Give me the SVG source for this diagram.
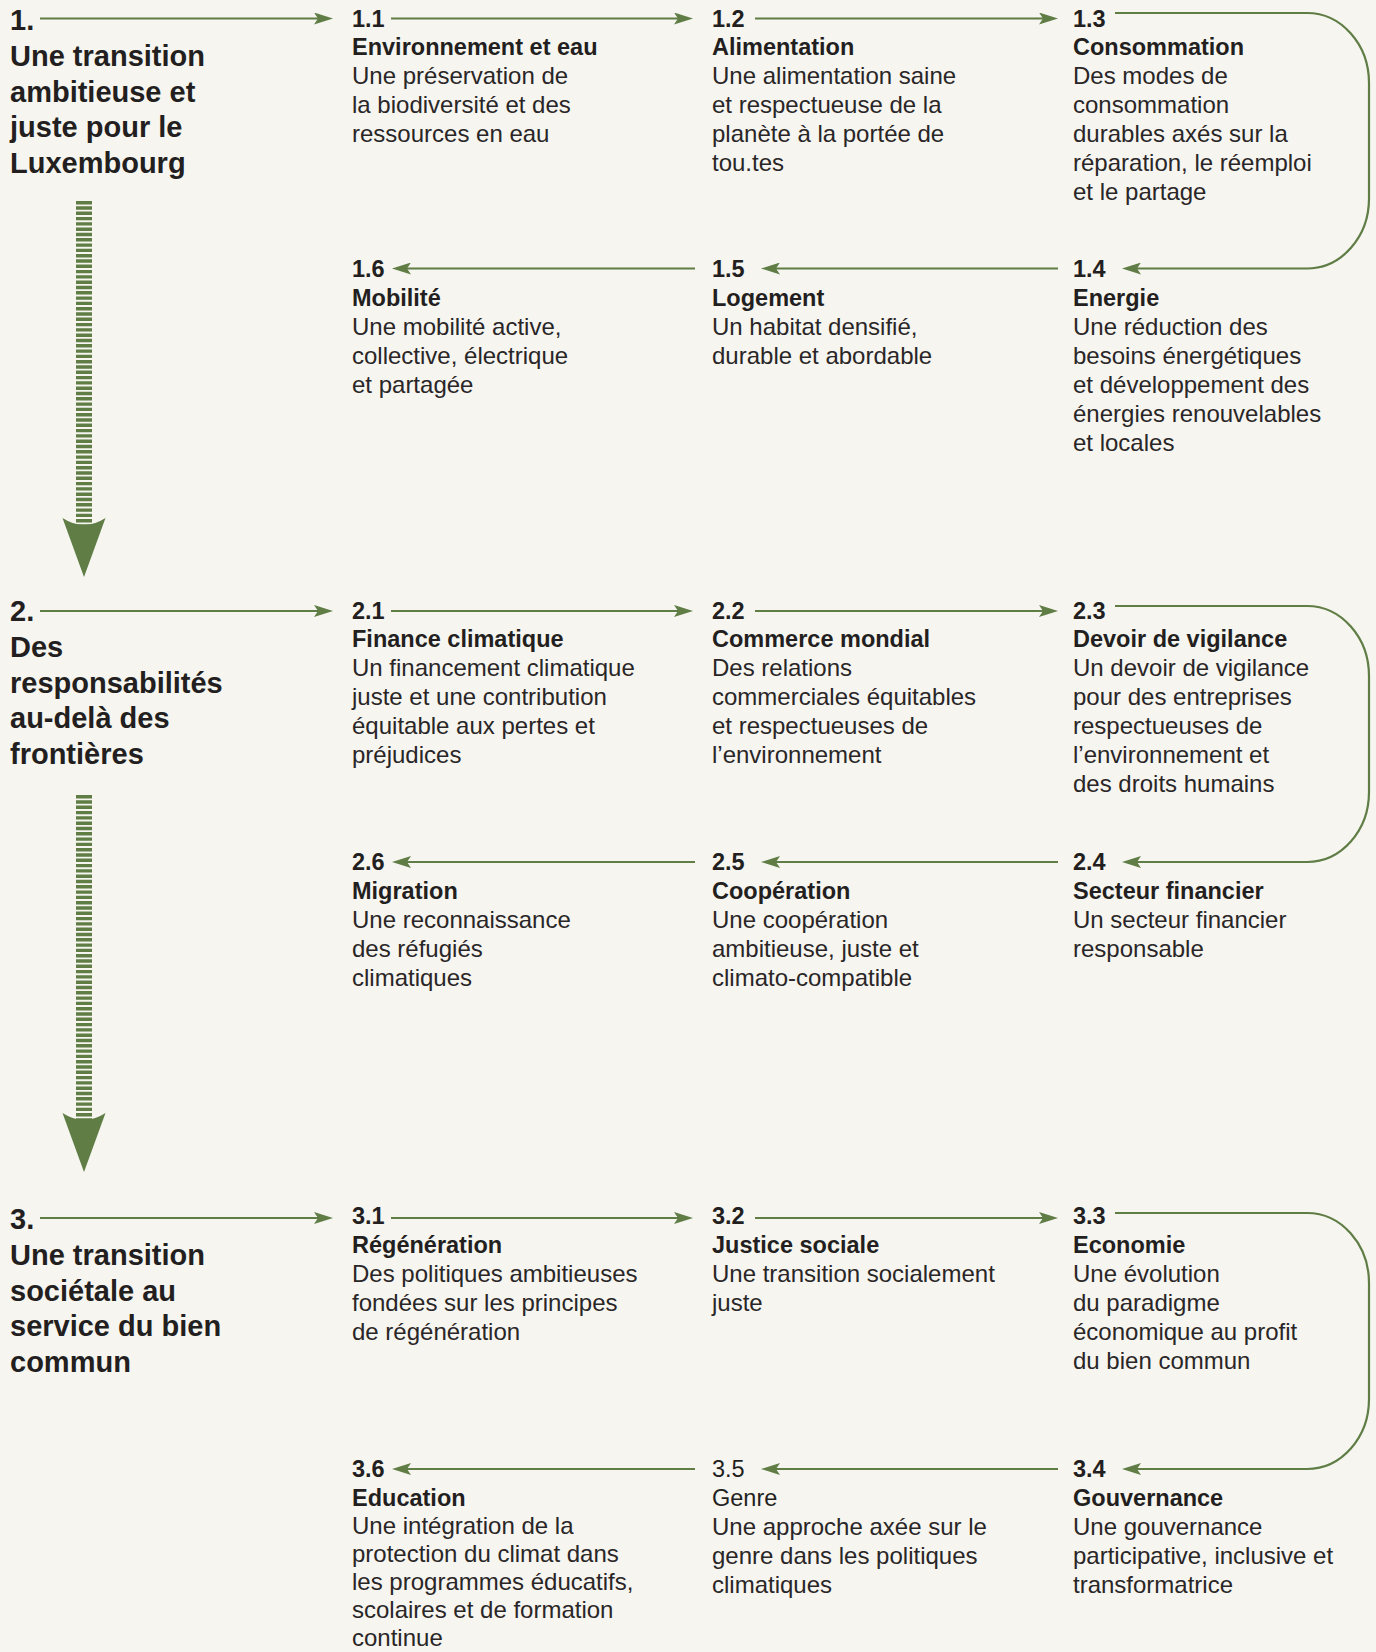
<svg xmlns="http://www.w3.org/2000/svg" width="1376" height="1652" viewBox="0 0 1376 1652">
<defs>
<style>
.num{font-family:"Liberation Sans",Arial,Helvetica,sans-serif;font-weight:bold;font-size:23.5px;fill:#231f20}
.ttl{font-family:"Liberation Sans",Arial,Helvetica,sans-serif;font-weight:bold;font-size:23.5px;fill:#231f20}
.reg{font-family:"Liberation Sans",Arial,Helvetica,sans-serif;font-weight:normal;font-size:23.5px;fill:#231f20}
.body{font-family:"Liberation Sans",Arial,Helvetica,sans-serif;font-size:24px;fill:#2a2627}
.sec{font-family:"Liberation Sans",Arial,Helvetica,sans-serif;font-weight:bold;font-size:29px;fill:#231f20}
.ln{fill:none;stroke:#5f7d45;stroke-width:2.2}
.dash{fill:none;stroke:#5f7d45;stroke-width:16;stroke-dasharray:3.4 1.9}
.head{fill:#5f7d45}
</style>
<marker id="ah" markerUnits="userSpaceOnUse" viewBox="0 0 19 12" refX="11" refY="6" markerWidth="19" markerHeight="12" orient="auto">
<path d="M0,0 L19,6 L0,12 L4,6 Z" fill="#5f7d45"/>
</marker>
</defs>
<rect width="1376" height="1652" fill="#f6f5f0"/>

<g id="connectors">
<!-- section 1 -->
<line class="ln" x1="40" y1="18.5" x2="325" y2="18.5" marker-end="url(#ah)"/>
<line class="ln" x1="391" y1="18.5" x2="685" y2="18.5" marker-end="url(#ah)"/>
<line class="ln" x1="755" y1="18.5" x2="1050" y2="18.5" marker-end="url(#ah)"/>
<path class="ln" d="M1115,13 H1307 A62,70 0 0 1 1369,83 V198 A62,70 0 0 1 1307,268.5 H1130" marker-end="url(#ah)"/>
<line class="ln" x1="1058" y1="268.5" x2="769" y2="268.5" marker-end="url(#ah)"/>
<line class="ln" x1="695" y1="268.5" x2="400" y2="268.5" marker-end="url(#ah)"/>
<line class="dash" x1="84" y1="201" x2="84" y2="528"/>
<path class="head" d="M62.5,518 Q84,532 105.5,518 L84,577 Z"/>
<!-- section 2 -->
<line class="ln" x1="40" y1="611" x2="325" y2="611" marker-end="url(#ah)"/>
<line class="ln" x1="391" y1="611" x2="685" y2="611" marker-end="url(#ah)"/>
<line class="ln" x1="755" y1="611" x2="1050" y2="611" marker-end="url(#ah)"/>
<path class="ln" d="M1115,606 H1307 A62,70 0 0 1 1369,676 V792 A62,70 0 0 1 1307,862 H1130" marker-end="url(#ah)"/>
<line class="ln" x1="1058" y1="862" x2="769" y2="862" marker-end="url(#ah)"/>
<line class="ln" x1="695" y1="862" x2="400" y2="862" marker-end="url(#ah)"/>
<line class="dash" x1="84" y1="795" x2="84" y2="1122"/>
<path class="head" d="M62.5,1113 Q84,1127 105.5,1113 L84,1172 Z"/>
<!-- section 3 -->
<line class="ln" x1="40" y1="1218" x2="325" y2="1218" marker-end="url(#ah)"/>
<line class="ln" x1="391" y1="1218" x2="685" y2="1218" marker-end="url(#ah)"/>
<line class="ln" x1="755" y1="1218" x2="1050" y2="1218" marker-end="url(#ah)"/>
<path class="ln" d="M1115,1213 H1307 A62,70 0 0 1 1369,1283 V1399 A62,70 0 0 1 1307,1469 H1130" marker-end="url(#ah)"/>
<line class="ln" x1="1058" y1="1469" x2="769" y2="1469" marker-end="url(#ah)"/>
<line class="ln" x1="695" y1="1469" x2="400" y2="1469" marker-end="url(#ah)"/>
</g>

<!-- Section 1 -->
<g id="sec1">
<text class="sec" x="10" y="30">1.</text>
<text class="sec" x="10" y="66">Une transition</text>
<text class="sec" x="10" y="101.5">ambitieuse et</text>
<text class="sec" x="10" y="137">juste pour le</text>
<text class="sec" x="10" y="172.5">Luxembourg</text>
</g>
<g id="n1-1">
<text class="num" x="352" y="26.5">1.1</text>
<text class="ttl" x="352" y="55">Environnement et eau</text>
<text class="body" x="352" y="84">Une préservation de</text>
<text class="body" x="352" y="113">la biodiversité et des</text>
<text class="body" x="352" y="142">ressources en eau</text>
</g>
<g id="n1-2">
<text class="num" x="712" y="26.5">1.2</text>
<text class="ttl" x="712" y="55">Alimentation</text>
<text class="body" x="712" y="84">Une alimentation saine</text>
<text class="body" x="712" y="113">et respectueuse de la</text>
<text class="body" x="712" y="142">planète à la portée de</text>
<text class="body" x="712" y="171">tou.tes</text>
</g>
<g id="n1-3">
<text class="num" x="1073" y="26.5">1.3</text>
<text class="ttl" x="1073" y="55">Consommation</text>
<text class="body" x="1073" y="84">Des modes de</text>
<text class="body" x="1073" y="113">consommation</text>
<text class="body" x="1073" y="142">durables axés sur la</text>
<text class="body" x="1073" y="171">réparation, le réemploi</text>
<text class="body" x="1073" y="200">et le partage</text>
</g>
<g id="n1-4">
<text class="num" x="1073" y="277">1.4</text>
<text class="ttl" x="1073" y="305.5">Energie</text>
<text class="body" x="1073" y="334.5">Une réduction des</text>
<text class="body" x="1073" y="363.5">besoins énergétiques</text>
<text class="body" x="1073" y="392.5">et développement des</text>
<text class="body" x="1073" y="421.5">énergies renouvelables</text>
<text class="body" x="1073" y="450.5">et locales</text>
</g>
<g id="n1-5">
<text class="num" x="712" y="277">1.5</text>
<text class="ttl" x="712" y="305.5">Logement</text>
<text class="body" x="712" y="334.5">Un habitat densifié,</text>
<text class="body" x="712" y="363.5">durable et abordable</text>
</g>
<g id="n1-6">
<text class="num" x="352" y="277">1.6</text>
<text class="ttl" x="352" y="305.5">Mobilité</text>
<text class="body" x="352" y="334.5">Une mobilité active,</text>
<text class="body" x="352" y="363.5">collective, électrique</text>
<text class="body" x="352" y="392.5">et partagée</text>
</g>

<!-- Section 2 -->
<g id="sec2">
<text class="sec" x="10" y="621">2.</text>
<text class="sec" x="10" y="657">Des</text>
<text class="sec" x="10" y="692.5">responsabilités</text>
<text class="sec" x="10" y="728">au-delà des</text>
<text class="sec" x="10" y="763.5">frontières</text>
</g>
<g id="n2-1">
<text class="num" x="352" y="618.5">2.1</text>
<text class="ttl" x="352" y="647">Finance climatique</text>
<text class="body" x="352" y="676">Un financement climatique</text>
<text class="body" x="352" y="705">juste et une contribution</text>
<text class="body" x="352" y="734">équitable aux pertes et</text>
<text class="body" x="352" y="763">préjudices</text>
</g>
<g id="n2-2">
<text class="num" x="712" y="618.5">2.2</text>
<text class="ttl" x="712" y="647">Commerce mondial</text>
<text class="body" x="712" y="676">Des relations</text>
<text class="body" x="712" y="705">commerciales équitables</text>
<text class="body" x="712" y="734">et respectueuses de</text>
<text class="body" x="712" y="763">l’environnement</text>
</g>
<g id="n2-3">
<text class="num" x="1073" y="618.5">2.3</text>
<text class="ttl" x="1073" y="647">Devoir de vigilance</text>
<text class="body" x="1073" y="676">Un devoir de vigilance</text>
<text class="body" x="1073" y="705">pour des entreprises</text>
<text class="body" x="1073" y="734">respectueuses de</text>
<text class="body" x="1073" y="763">l’environnement et</text>
<text class="body" x="1073" y="792">des droits humains</text>
</g>
<g id="n2-4">
<text class="num" x="1073" y="870">2.4</text>
<text class="ttl" x="1073" y="898.5">Secteur financier</text>
<text class="body" x="1073" y="927.5">Un secteur financier</text>
<text class="body" x="1073" y="956.5">responsable</text>
</g>
<g id="n2-5">
<text class="num" x="712" y="870">2.5</text>
<text class="ttl" x="712" y="898.5">Coopération</text>
<text class="body" x="712" y="927.5">Une coopération</text>
<text class="body" x="712" y="956.5">ambitieuse, juste et</text>
<text class="body" x="712" y="985.5">climato-compatible</text>
</g>
<g id="n2-6">
<text class="num" x="352" y="870">2.6</text>
<text class="ttl" x="352" y="898.5">Migration</text>
<text class="body" x="352" y="927.5">Une reconnaissance</text>
<text class="body" x="352" y="956.5">des réfugiés</text>
<text class="body" x="352" y="985.5">climatiques</text>
</g>

<!-- Section 3 -->
<g id="sec3">
<text class="sec" x="10" y="1229">3.</text>
<text class="sec" x="10" y="1265">Une transition</text>
<text class="sec" x="10" y="1300.5">sociétale au</text>
<text class="sec" x="10" y="1336">service du bien</text>
<text class="sec" x="10" y="1371.5">commun</text>
</g>
<g id="n3-1">
<text class="num" x="352" y="1224">3.1</text>
<text class="ttl" x="352" y="1252.5">Régénération</text>
<text class="body" x="352" y="1281.5">Des politiques ambitieuses</text>
<text class="body" x="352" y="1310.5">fondées sur les principes</text>
<text class="body" x="352" y="1339.5">de régénération</text>
</g>
<g id="n3-2">
<text class="num" x="712" y="1224">3.2</text>
<text class="ttl" x="712" y="1252.5">Justice sociale</text>
<text class="body" x="712" y="1281.5">Une transition socialement</text>
<text class="body" x="712" y="1310.5">juste</text>
</g>
<g id="n3-3">
<text class="num" x="1073" y="1224">3.3</text>
<text class="ttl" x="1073" y="1252.5">Economie</text>
<text class="body" x="1073" y="1281.5">Une évolution</text>
<text class="body" x="1073" y="1310.5">du paradigme</text>
<text class="body" x="1073" y="1339.5">économique au profit</text>
<text class="body" x="1073" y="1368.5">du bien commun</text>
</g>
<g id="n3-4">
<text class="num" x="1073" y="1477">3.4</text>
<text class="ttl" x="1073" y="1505.5">Gouvernance</text>
<text class="body" x="1073" y="1534.5">Une gouvernance</text>
<text class="body" x="1073" y="1563.5">participative, inclusive et</text>
<text class="body" x="1073" y="1592.5">transformatrice</text>
</g>
<g id="n3-5">
<text class="reg" x="712" y="1477">3.5</text>
<text class="reg" x="712" y="1505.5">Genre</text>
<text class="body" x="712" y="1534.5">Une approche axée sur le</text>
<text class="body" x="712" y="1563.5">genre dans les politiques</text>
<text class="body" x="712" y="1592.5">climatiques</text>
</g>
<g id="n3-6">
<text class="num" x="352" y="1477">3.6</text>
<text class="ttl" x="352" y="1505.5">Education</text>
<text class="body" x="352" y="1533.5">Une intégration de la</text>
<text class="body" x="352" y="1561.5">protection du climat dans</text>
<text class="body" x="352" y="1589.5">les programmes éducatifs,</text>
<text class="body" x="352" y="1617.5">scolaires et de formation</text>
<text class="body" x="352" y="1645.5">continue</text>
</g>
</svg>
